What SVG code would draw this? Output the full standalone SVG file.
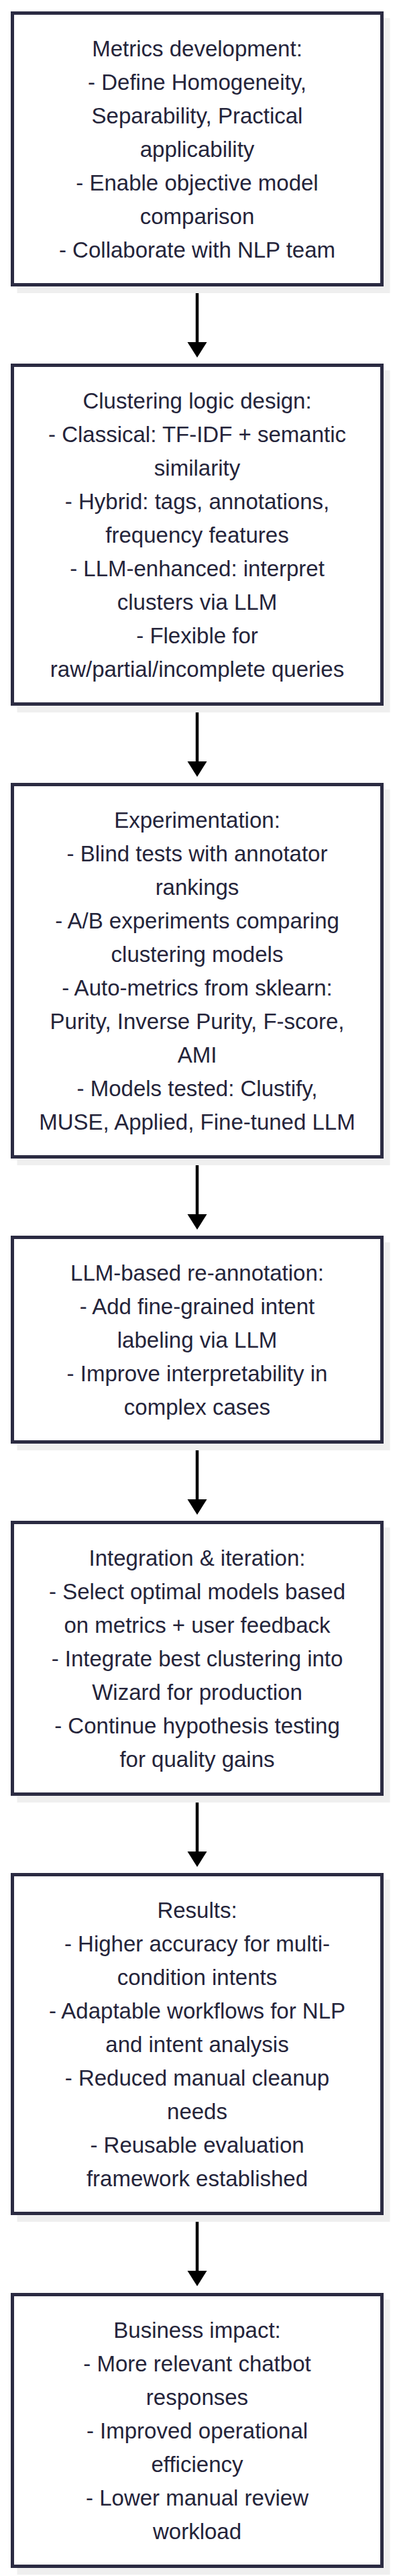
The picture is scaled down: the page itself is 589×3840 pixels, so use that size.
<svg xmlns="http://www.w3.org/2000/svg" width="589" height="3840" viewBox="0 0 589 3840">
<style>
.shadow{fill:#efefef;stroke:none}
.box{fill:#ffffff;stroke:#2b2b42;stroke-width:5}
.lbl{font-family:"Liberation Sans",Arial,sans-serif;font-size:33px;fill:#24243a;text-anchor:middle}
.edge{stroke:#000000;stroke-width:4.5;fill:none}
</style>
<defs>
<marker id="arrow" markerUnits="userSpaceOnUse" markerWidth="24" markerHeight="30" viewBox="0 0 24 30" refX="5" refY="14.5" orient="auto">
<path d="M0,0 L23,14.5 L0,29 z" fill="#000000"/>
</marker>
</defs>
<rect width="589" height="3840" fill="#ffffff"/>
<g id="connectors">
<line class="edge" x1="294" y1="427" x2="294" y2="515" marker-end="url(#arrow)"/>
<line class="edge" x1="294" y1="1052" x2="294" y2="1140" marker-end="url(#arrow)"/>
<line class="edge" x1="294" y1="1727" x2="294" y2="1815" marker-end="url(#arrow)"/>
<line class="edge" x1="294" y1="2152" x2="294" y2="2240" marker-end="url(#arrow)"/>
<line class="edge" x1="294" y1="2677" x2="294" y2="2765" marker-end="url(#arrow)"/>
<line class="edge" x1="294" y1="3302" x2="294" y2="3390" marker-end="url(#arrow)"/>
</g>
<g id="node1">
<rect class="shadow" x="25.5" y="27" width="556" height="410"/>
<rect class="box" x="18.5" y="19.5" width="551" height="405"/>
<text class="lbl" x="294" y="83.5"><tspan x="294">Metrics development:</tspan><tspan x="294" dy="50">- Define Homogeneity,</tspan><tspan x="294" dy="50">Separability, Practical</tspan><tspan x="294" dy="50">applicability</tspan><tspan x="294" dy="50">- Enable objective model</tspan><tspan x="294" dy="50">comparison</tspan><tspan x="294" dy="50">- Collaborate with NLP team</tspan></text>
</g>
<g id="node2">
<rect class="shadow" x="25.5" y="552" width="556" height="510"/>
<rect class="box" x="18.5" y="544.5" width="551" height="505"/>
<text class="lbl" x="294" y="608.5"><tspan x="294">Clustering logic design:</tspan><tspan x="294" dy="50">- Classical: TF-IDF + semantic</tspan><tspan x="294" dy="50">similarity</tspan><tspan x="294" dy="50">- Hybrid: tags, annotations,</tspan><tspan x="294" dy="50">frequency features</tspan><tspan x="294" dy="50">- LLM-enhanced: interpret</tspan><tspan x="294" dy="50">clusters via LLM</tspan><tspan x="294" dy="50">- Flexible for</tspan><tspan x="294" dy="50">raw/partial/incomplete queries</tspan></text>
</g>
<g id="node3">
<rect class="shadow" x="25.5" y="1177" width="556" height="560"/>
<rect class="box" x="18.5" y="1169.5" width="551" height="555"/>
<text class="lbl" x="294" y="1233.5"><tspan x="294">Experimentation:</tspan><tspan x="294" dy="50">- Blind tests with annotator</tspan><tspan x="294" dy="50">rankings</tspan><tspan x="294" dy="50">- A/B experiments comparing</tspan><tspan x="294" dy="50">clustering models</tspan><tspan x="294" dy="50">- Auto-metrics from sklearn:</tspan><tspan x="294" dy="50">Purity, Inverse Purity, F-score,</tspan><tspan x="294" dy="50">AMI</tspan><tspan x="294" dy="50">- Models tested: Clustify,</tspan><tspan x="294" dy="50">MUSE, Applied, Fine-tuned LLM</tspan></text>
</g>
<g id="node4">
<rect class="shadow" x="25.5" y="1852" width="556" height="310"/>
<rect class="box" x="18.5" y="1844.5" width="551" height="305"/>
<text class="lbl" x="294" y="1908.5"><tspan x="294">LLM-based re-annotation:</tspan><tspan x="294" dy="50">- Add fine-grained intent</tspan><tspan x="294" dy="50">labeling via LLM</tspan><tspan x="294" dy="50">- Improve interpretability in</tspan><tspan x="294" dy="50">complex cases</tspan></text>
</g>
<g id="node5">
<rect class="shadow" x="25.5" y="2277" width="556" height="410"/>
<rect class="box" x="18.5" y="2269.5" width="551" height="405"/>
<text class="lbl" x="294" y="2333.5"><tspan x="294">Integration &amp; iteration:</tspan><tspan x="294" dy="50">- Select optimal models based</tspan><tspan x="294" dy="50">on metrics + user feedback</tspan><tspan x="294" dy="50">- Integrate best clustering into</tspan><tspan x="294" dy="50">Wizard for production</tspan><tspan x="294" dy="50">- Continue hypothesis testing</tspan><tspan x="294" dy="50">for quality gains</tspan></text>
</g>
<g id="node6">
<rect class="shadow" x="25.5" y="2802" width="556" height="510"/>
<rect class="box" x="18.5" y="2794.5" width="551" height="505"/>
<text class="lbl" x="294" y="2858.5"><tspan x="294">Results:</tspan><tspan x="294" dy="50">- Higher accuracy for multi-</tspan><tspan x="294" dy="50">condition intents</tspan><tspan x="294" dy="50">- Adaptable workflows for NLP</tspan><tspan x="294" dy="50">and intent analysis</tspan><tspan x="294" dy="50">- Reduced manual cleanup</tspan><tspan x="294" dy="50">needs</tspan><tspan x="294" dy="50">- Reusable evaluation</tspan><tspan x="294" dy="50">framework established</tspan></text>
</g>
<g id="node7">
<rect class="shadow" x="25.5" y="3428" width="556" height="410"/>
<rect class="box" x="18.5" y="3420.5" width="551" height="405"/>
<text class="lbl" x="294" y="3484.5"><tspan x="294">Business impact:</tspan><tspan x="294" dy="50">- More relevant chatbot</tspan><tspan x="294" dy="50">responses</tspan><tspan x="294" dy="50">- Improved operational</tspan><tspan x="294" dy="50">efficiency</tspan><tspan x="294" dy="50">- Lower manual review</tspan><tspan x="294" dy="50">workload</tspan></text>
</g>
</svg>
